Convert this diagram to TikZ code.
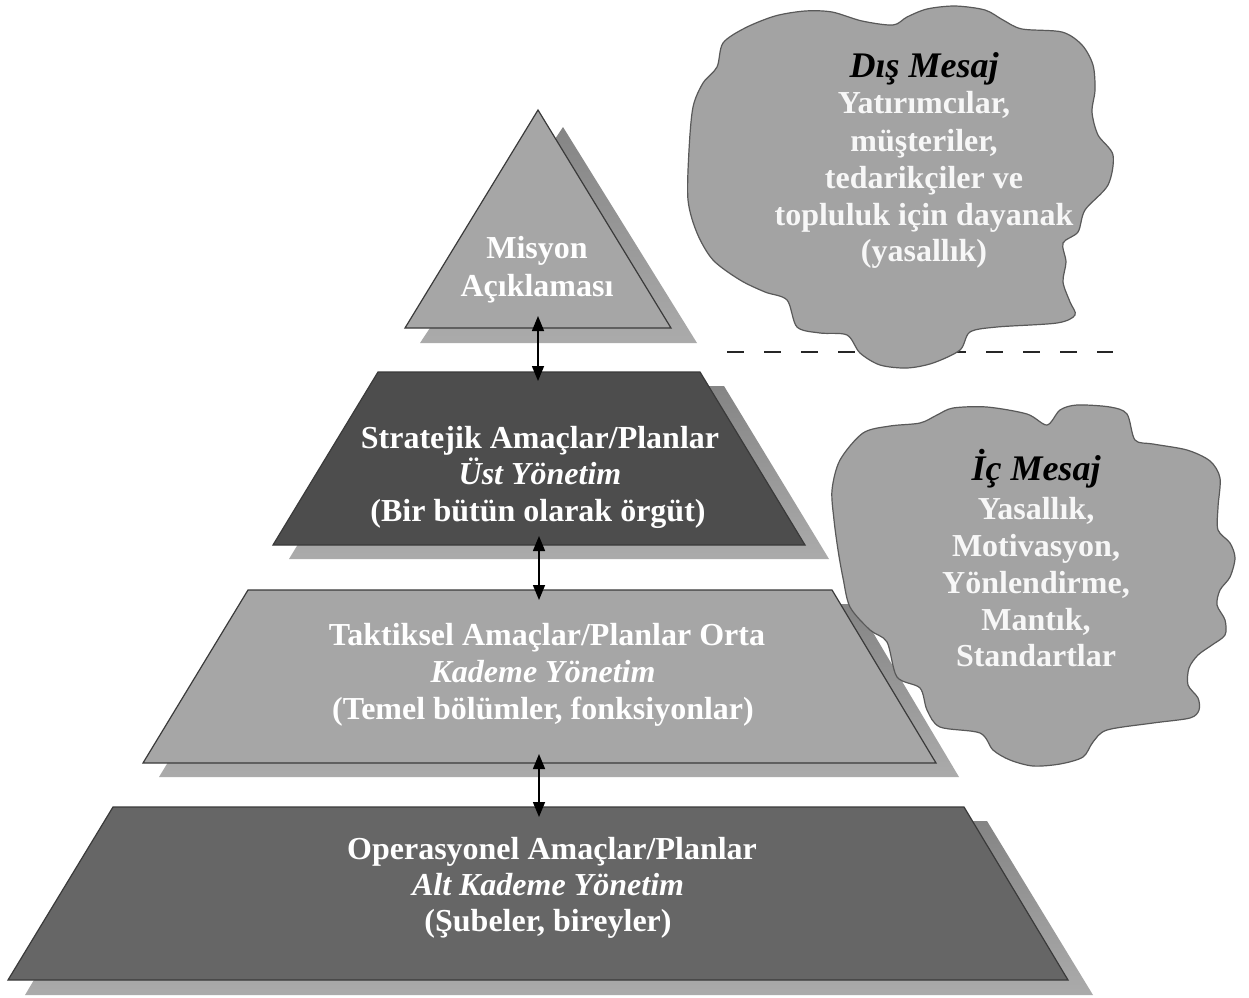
\documentclass[tikz,border=0pt]{standalone}
\usepackage{fontspec}
\setmainfont{Liberation Serif}
\usetikzlibrary{arrows.meta}
\definecolor{lightfill}{HTML}{A6A6A6}
\definecolor{darkfill}{HTML}{4D4D4D}
\definecolor{midfill}{HTML}{666666}
\definecolor{cloudfill}{HTML}{A3A3A3}
\definecolor{edgecol}{HTML}{3A3A3A}
\definecolor{bodywhite}{HTML}{F7F7F7}
\tikzset{
  shadowshape/.style={top color=black!48, bottom color=black!33, draw=none},
  frontshape/.style={draw=edgecol, line width=1.2pt, line join=miter},
  cloudshape/.style={fill=cloudfill, draw=black!65, line width=1.2pt},
  ptext/.style={text=white, font=\fontsize{32}{37}\selectfont\bfseries, anchor=base, inner sep=0pt},
  pital/.style={ptext, font=\fontsize{32}{37}\selectfont\bfseries\itshape},
  ctitle/.style={text=black, font=\fontsize{36}{40}\selectfont\bfseries\itshape, anchor=base, inner sep=0pt},
  cbody/.style={text=bodywhite, font=\fontsize{32}{37}\selectfont\bfseries, anchor=base, inner sep=0pt},
  dblarrow/.style={draw=black, line width=1.5pt, {Triangle[length=15pt,width=12pt]}-{Triangle[length=15pt,width=12pt]}},
  sepline/.style={draw=black!85, line width=2pt, dash pattern=on 17pt off 20pt}
}
\begin{document}
\begin{tikzpicture}[x=1pt,y=-1pt]
\useasboundingbox (0,0) rectangle (1249,997);
\fill[white] (0,0) rectangle (1249,997);

% ---- shadows ----
\path[shadowshape] (563,127) -- (697,343) -- (420,343) -- cycle;
\path[shadowshape] (394,386) -- (724,386) -- (829,559) -- (289,559) -- cycle;
\path[shadowshape] (264,604) -- (856,604) -- (959,777) -- (159,777) -- cycle;
\path[shadowshape] (129,821) -- (987,821) -- (1093,995) -- (25,995) -- cycle;

% ---- fronts ----
\path[frontshape, fill=lightfill] (538,110) -- (671,328) -- (405,328) -- cycle;
\path[frontshape, fill=darkfill] (378,372) -- (700,372) -- (805,545) -- (273,545) -- cycle;
\path[frontshape, fill=lightfill] (248,590) -- (832,590) -- (936,763) -- (143,763) -- cycle;
\path[frontshape, fill=midfill] (113,807) -- (964,807) -- (1068,980) -- (8,980) -- cycle;

% ---- separator ----
\coordinate (sepL) at (727,352);
\coordinate (sepR) at (1113,352);
\draw[sepline] (sepL) -- (sepR);

% ---- clouds ----
\path[cloudshape] plot[smooth cycle, tension=0.5] coordinates {
(723,43) (745,28) (775,16) (805,11) (832,12) (862,21) (893,25) (907,17) (927,9) (955,6) (985,10) (1003,20) (1022,29) (1062,32) (1082,45) (1093,65) (1095,90) (1092,112) (1098,135) (1113,155) (1108,185) (1085,210) (1078,232) (1063,243) (1066,262) (1063,282) (1070,302) (1075,315) (1057,323) (997,327) (970,332) (960,350) (933,363) (907,368) (880,365) (860,353) (847,335) (820,333) (797,327) (787,300) (765,292) (740,280) (713,260) (697,233) (688,200) (689,150) (693,107) (703,83) (717,67)};
\path[cloudshape] plot[smooth cycle, tension=0.5] coordinates {
(863,433) (890,426) (920,423) (937,415) (953,408) (987,407) (1027,414) (1047,425) (1060,410) (1077,405) (1110,407) (1127,414) (1135,440) (1153,444) (1187,450) (1210,461) (1220,478) (1218,507) (1218,530) (1230,543) (1235,558) (1230,577) (1220,590) (1217,605) (1225,620) (1225,635) (1212,645) (1198,655) (1189,668) (1188,685) (1198,698) (1199,710) (1190,718) (1153,723) (1107,730) (1093,742) (1083,757) (1060,764) (1033,766) (1010,760) (993,750) (980,733) (940,727) (927,710) (920,688) (897,677) (887,642) (870,630) (850,607) (843,578) (838,550) (834,520) (832,490) (840,460)};

% ---- pyramid texts ----
\node[ptext] (m1) at (537,258) {Misyon};
\node[ptext] (m2) at (537,296) {Açıklaması};

\node[ptext] (s1) at (540,448) {Stratejik Amaçlar/Planlar};
\node[pital] (s2) at (540,484) {Üst Yönetim};
\node[ptext] (s3) at (538,521) {(Bir bütün olarak örgüt)};

\node[ptext] (t1) at (547,645) {Taktiksel Amaçlar/Planlar Orta};
\node[pital] (t2) at (543,682) {Kademe Yönetim};
\node[ptext] (t3) at (543,719) {(Temel bölümler, fonksiyonlar)};

\node[ptext] (o1) at (552,859) {Operasyonel Amaçlar/Planlar};
\node[pital] (o2) at (548,895) {Alt Kademe Yönetim};
\node[ptext] (o3) at (548,931) {(Şubeler, bireyler)};

% ---- cloud texts ----
\node[ctitle] (d0) at (924,77) {Dış Mesaj};
\node[cbody] (d1) at (924,113) {Yatırımcılar,};
\node[cbody] (d2) at (924,151) {müşteriler,};
\node[cbody] (d3) at (924,188) {tedarikçiler ve};
\node[cbody] (d4) at (924,225) {topluluk için dayanak};
\node[cbody] (d5) at (924,261) {(yasallık)};

\node[ctitle] (i0) at (1036,480) {İç Mesaj};
\node[cbody] (i1) at (1036,519) {Yasallık,};
\node[cbody] (i2) at (1036,556) {Motivasyon,};
\node[cbody] (i3) at (1036,593) {Yönlendirme,};
\node[cbody] (i4) at (1036,630) {Mantık,};
\node[cbody] (i5) at (1036,666) {Standartlar};

% ---- connectors ----
\coordinate (triB) at (538,316);
\coordinate (strT) at (538,381);
\coordinate (strB) at (539,536);
\coordinate (takT) at (539,600);
\coordinate (takB) at (539,754);
\coordinate (opT) at (539,817);
\draw[dblarrow] (triB) -- (strT);
\draw[dblarrow] (strB) -- (takT);
\draw[dblarrow] (takB) -- (opT);
\end{tikzpicture}
\end{document}
